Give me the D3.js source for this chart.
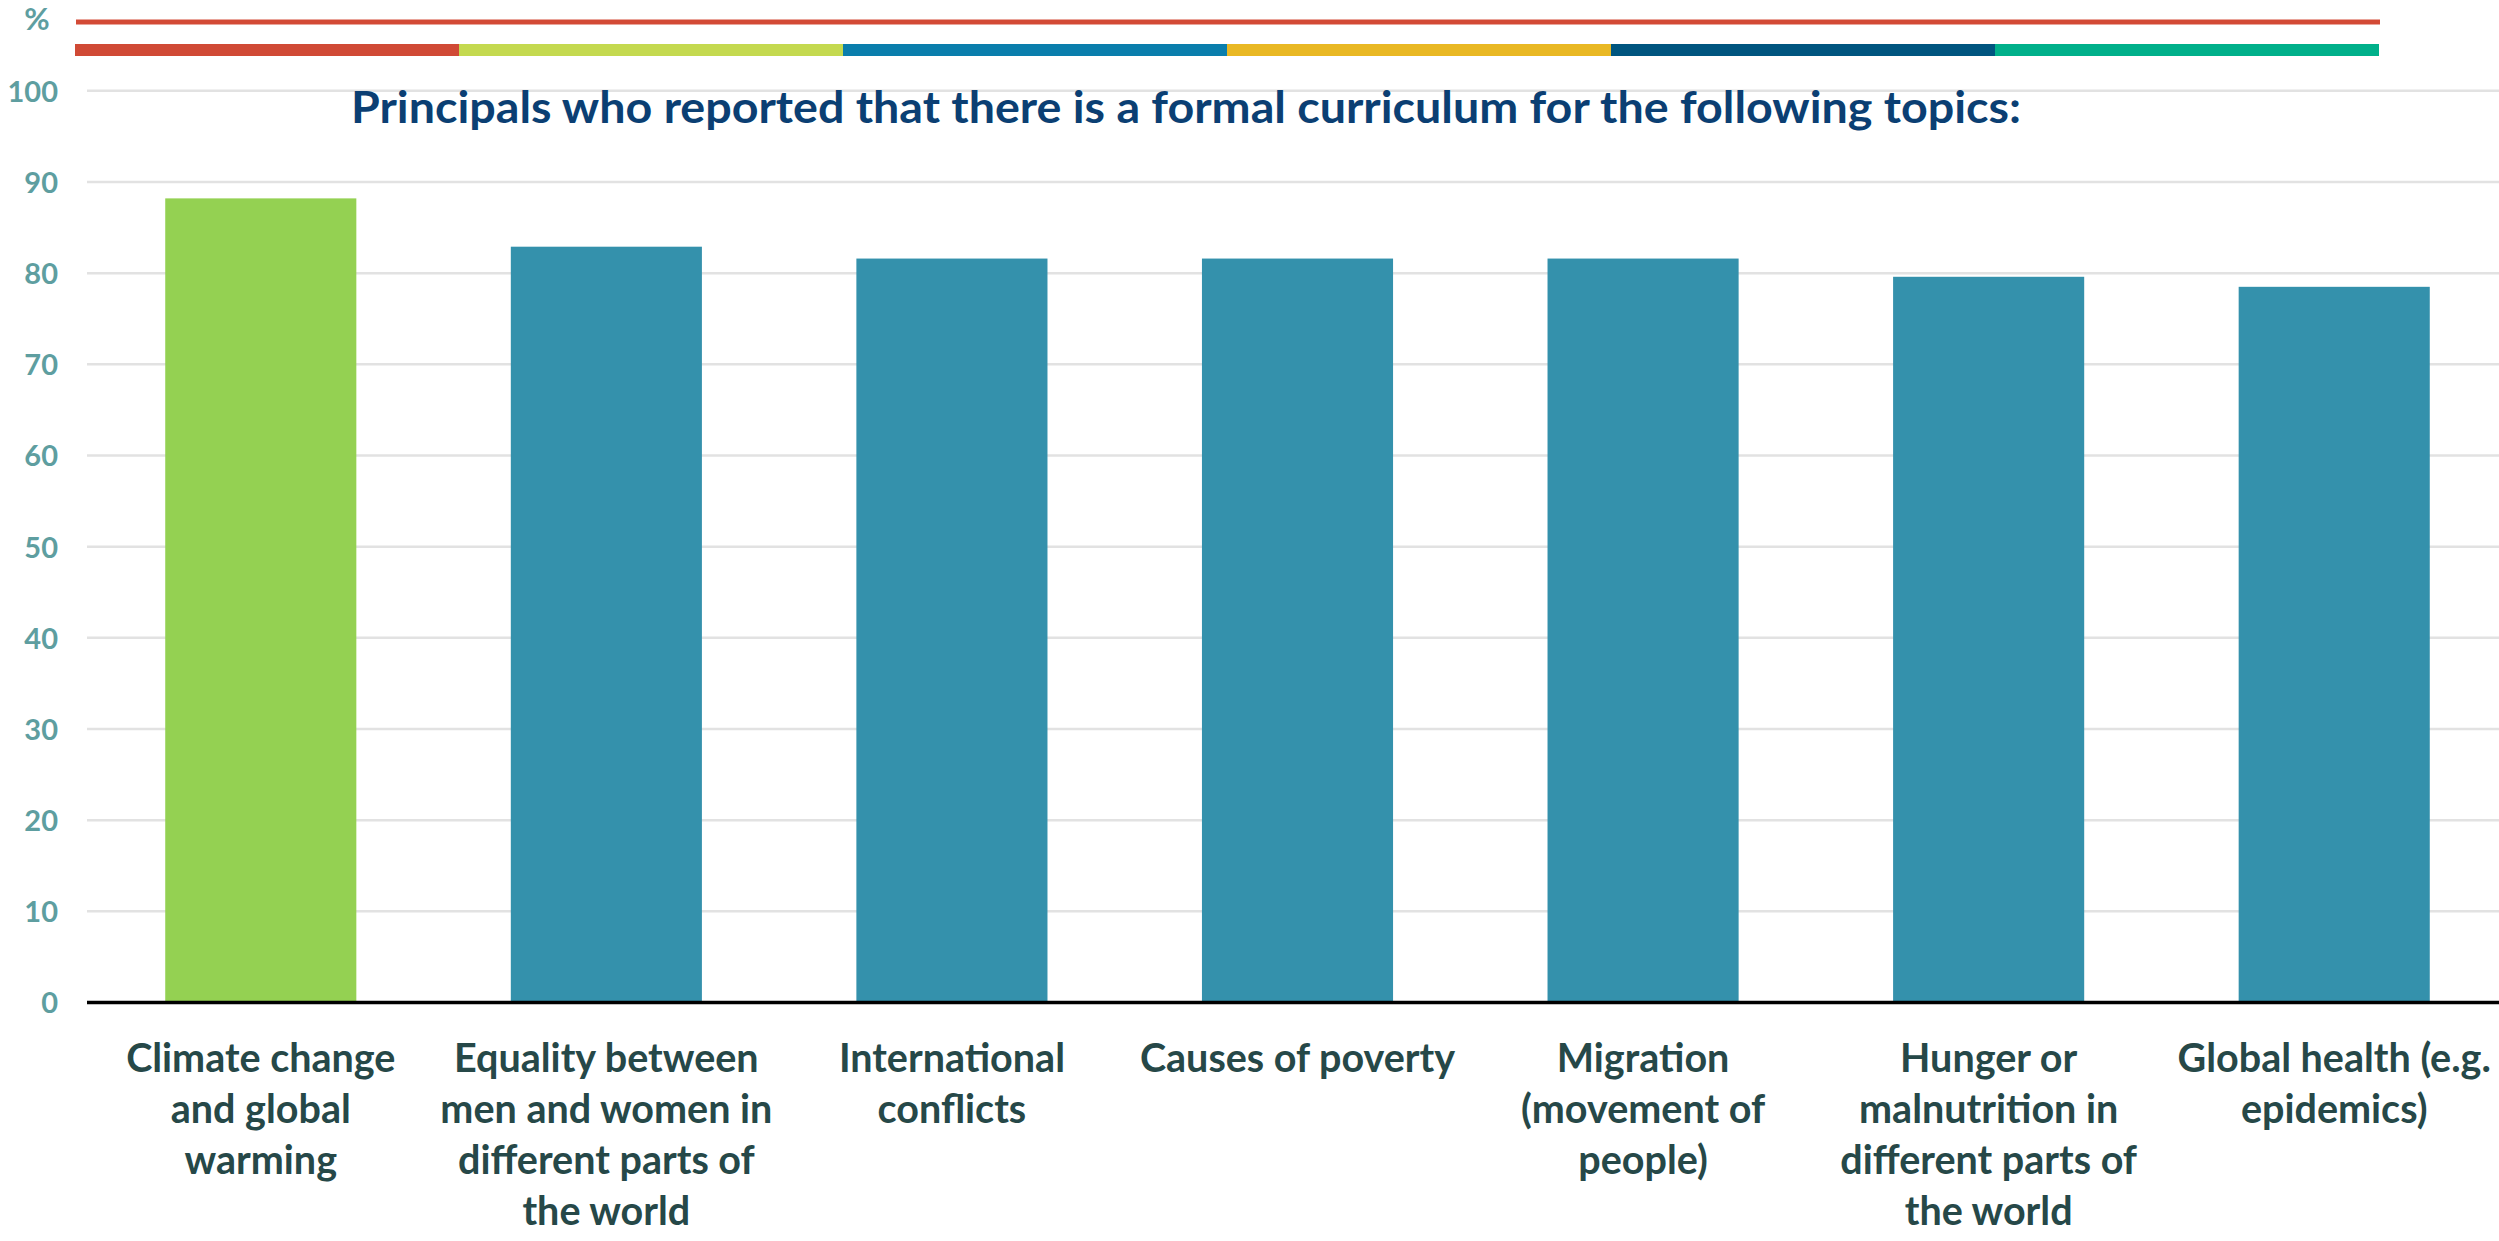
<!DOCTYPE html>
<html>
<head>
<meta charset="utf-8">
<script src="https://cdn.jsdelivr.net/npm/d3@7"></script>
<style>
  html, body { margin: 0; padding: 0; background: #ffffff; overflow: hidden; }
  svg { display: block; }
</style>
</head>
<body>
<svg id="chart" width="2499" height="1241"></svg>
<script>
// ---- data ----
const categories = [
  "Climate change and global warming",
  "Equality between men and women in different parts of the world",
  "International conflicts",
  "Causes of poverty",
  "Migration (movement of people)",
  "Hunger or malnutrition in different parts of the world",
  "Global health (e.g. epidemics)"
];
const categoryLabelLines = [
  ["Climate change", "and global", "warming"],
  ["Equality between", "men and women in", "different parts of", "the world"],
  ["International", "conflicts"],
  ["Causes of poverty"],
  ["Migration", "(movement of", "people)"],
  ["Hunger or", "malnutrition in", "different parts of", "the world"],
  ["Global health (e.g.", "epidemics)"]
];
const values = [88.2, 82.9, 81.6, 81.6, 81.6, 79.6, 78.5];
const highlighted = ["Climate change and global warming"];
const yTicks = [0, 10, 20, 30, 40, 50, 60, 70, 80, 90, 100];
const titleText = "Principals who reported that there is a formal curriculum for the following topics:";
const yUnitLabel = "%";
const bannerColors = ["#D04A35", "#C4D94F", "#0A7EAC", "#E9B824", "#00557F", "#00B08A"];

// ---- layout ----
const svg = d3.select("#chart");
const W = 2499, H = 1241;
const plotLeft = 88, plotRight = 2507;
const yBottom = 1002.5, yTop = 90.8;

const x = d3.scaleBand()
  .domain(categories)
  .range([plotLeft, plotRight])
  .paddingInner(0.447)
  .paddingOuter(0.2235);

const y = d3.scaleLinear().domain([0, 100]).range([yBottom, yTop]);

const tealText = "#5E9EA0";
const labelColor = "#264848";
const font = "Lato, 'Open Sans', 'DejaVu Sans', sans-serif";

// top banner: thin red line and segmented bar
const bannerX = d3.scaleLinear().domain([0, bannerColors.length]).range([75, 2379]);
svg.append("rect")
  .attr("x", 76).attr("y", 19.5).attr("width", 2380 - 76).attr("height", 5)
  .attr("fill", "#D34A36");
svg.append("g").selectAll("rect")
  .data(bannerColors)
  .join("rect")
  .attr("x", (d, i) => bannerX(i))
  .attr("y", 44)
  .attr("width", (d, i) => bannerX(i + 1) - bannerX(i))
  .attr("height", 12)
  .attr("fill", d => d);

// "%" unit label
svg.append("text")
  .attr("x", 37).attr("y", 30)
  .attr("text-anchor", "middle")
  .attr("font-family", font).attr("font-weight", 700)
  .attr("font-size", 31)
  .attr("fill", tealText)
  .text(yUnitLabel);

// gridlines
svg.append("g").selectAll("line")
  .data(yTicks.filter(t => t > 0))
  .join("line")
  .attr("x1", 87).attr("x2", W)
  .attr("y1", d => y(d)).attr("y2", d => y(d))
  .attr("stroke", "#E2E2E2").attr("stroke-width", 2.5);

// y axis labels
const yAxis = d3.axisLeft(y).tickValues(yTicks).tickSize(0).tickPadding(0);
const gy = svg.append("g").attr("transform", "translate(58,0)").call(yAxis);
gy.select(".domain").remove();
gy.selectAll("text")
  .attr("font-family", font).attr("font-weight", 700)
  .attr("font-size", 29)
  .attr("fill", tealText)
  .attr("dy", "0.36em");

// title
svg.append("text")
  .attr("x", 351).attr("y", 123)
  .attr("font-family", font).attr("font-weight", 700)
  .attr("font-size", 43)
  .attr("fill", "#0B3F73")
  .attr("textLength", 1670)
  .attr("lengthAdjust", "spacingAndGlyphs")
  .text(titleText);

// bars
svg.append("g").selectAll("rect")
  .data(categories)
  .join("rect")
  .attr("x", d => x(d))
  .attr("width", x.bandwidth())
  .attr("y", (d, i) => y(values[i]))
  .attr("height", (d, i) => y(0) - y(values[i]))
  .attr("fill", d => highlighted.includes(d) ? "#94D152" : "#3491AC");

// baseline axis
svg.append("line")
  .attr("x1", 87).attr("x2", W)
  .attr("y1", yBottom).attr("y2", yBottom)
  .attr("stroke", "#000").attr("stroke-width", 3.5);

// x labels
const gx = svg.append("g");
categories.forEach((c, i) => {
  const t = gx.append("text")
    .attr("x", x(c) + x.bandwidth() / 2)
    .attr("y", 1072)
    .attr("text-anchor", "middle")
    .attr("font-family", font).attr("font-weight", 700)
    .attr("font-size", 39.5)
    .attr("fill", labelColor);
  categoryLabelLines[i].forEach((line, j) => {
    t.append("tspan")
      .attr("x", x(c) + x.bandwidth() / 2)
      .attr("dy", j === 0 ? 0 : 51)
      .text(line);
  });
});
</script>
</body>
</html>
